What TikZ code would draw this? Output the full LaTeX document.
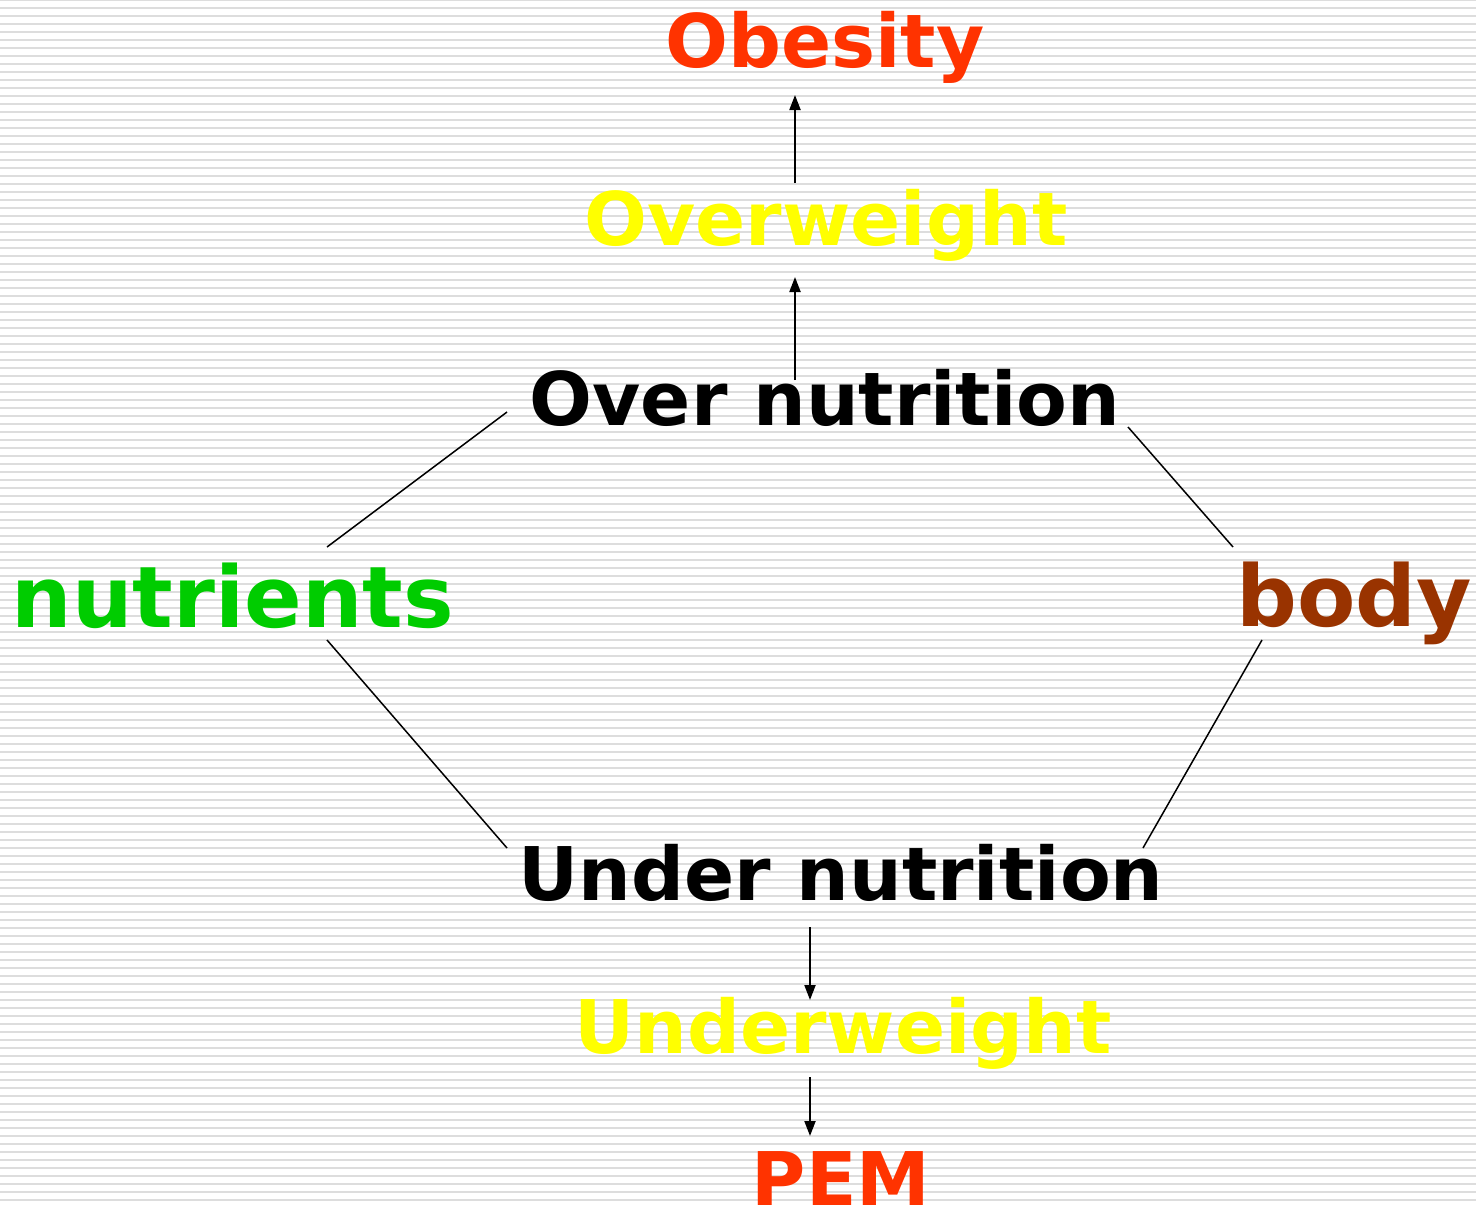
\documentclass[tikz,border=0pt]{standalone}
\usepackage{fontspec}
\setmainfont{DejaVu Sans}
\usetikzlibrary{arrows.meta}
\definecolor{cred}{HTML}{FF3300}
\definecolor{cyel}{HTML}{FFFF00}
\definecolor{cgreen}{HTML}{00CC00}
\definecolor{cbrown}{HTML}{993300}
\definecolor{stripe}{HTML}{DDDDDD}
\tikzset{
  lbl/.style={anchor=base, inner sep=0pt, font=\fontsize{74}{80}\selectfont\bfseries},
  biglbl/.style={anchor=base, inner sep=0pt, font=\fontsize{85}{90}\selectfont\bfseries},
  link/.style={line width=1.5pt, black},
  arr/.style={line width=2pt, black, -{Triangle[length=15pt,width=11pt]}}
}
\begin{document}
\begin{tikzpicture}[x=1pt,y=-1pt]
\useasboundingbox (0,0) rectangle (1476,1207);
\fill[white] (0,0) rectangle (1476,1207);
\foreach \k in {0,...,151} {
  \fill[stripe] (0,{8*\k-1}) rectangle (1476,{8*\k+1});
}
\node[lbl, text=cred] (obesity) at (825,68) {Obesity};
\node[lbl, text=cyel] (overweight) at (826,245) {Overweight};
\node[lbl, text=black] (over) at (825,425) {Over nutrition};
\node[biglbl, text=cgreen] (nutrients) at (233,627) {nutrients};
\node[biglbl, text=cbrown] (body) at (1354,626) {body};
\node[lbl, text=black] (under) at (841,900) {Under nutrition};
\node[lbl, text=cyel] (underweight) at (843,1053) {Underweight};
\node[lbl, text=cred] (pem) at (841,1205) {PEM};
% connector endpoints
\coordinate (a1) at (507,412);
\coordinate (a2) at (327,547);
\coordinate (b1) at (1128,427);
\coordinate (b2) at (1233,547);
\coordinate (c1) at (327,640);
\coordinate (c2) at (507,848);
\coordinate (d1) at (1262,640);
\coordinate (d2) at (1143,848);
\draw[link] (a1) -- (a2);
\draw[link] (b1) -- (b2);
\draw[link] (c1) -- (c2);
\draw[link] (d1) -- (d2);
\coordinate (o1) at (795,183);
\coordinate (o2) at (795,95);
\coordinate (p1) at (795,380);
\coordinate (p2) at (795,277);
\coordinate (q1) at (810,927);
\coordinate (q2) at (810,1000);
\coordinate (r1) at (810,1077);
\coordinate (r2) at (810,1136);
\draw[arr] (o1) -- (o2);
\draw[arr] (p1) -- (p2);
\draw[arr] (q1) -- (q2);
\draw[arr] (r1) -- (r2);
\end{tikzpicture}
\end{document}
